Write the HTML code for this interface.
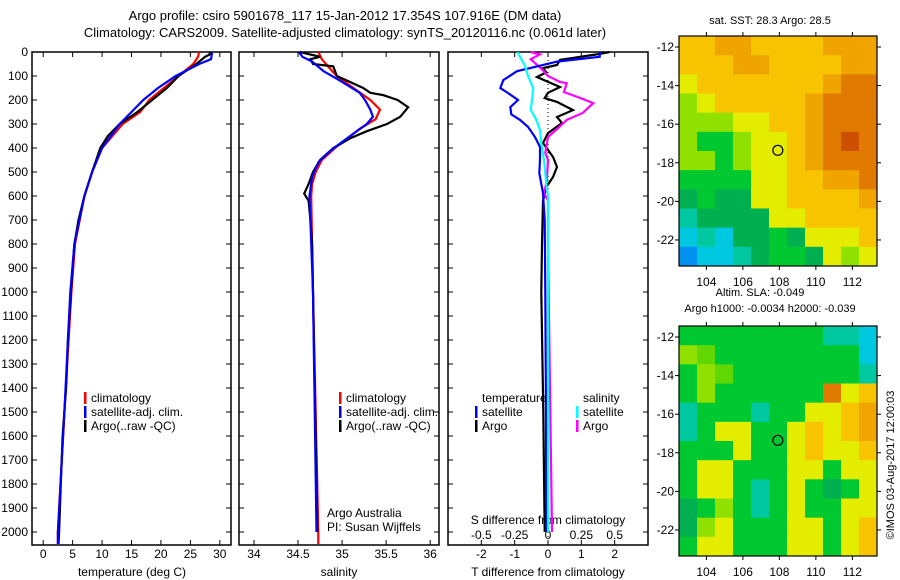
<!DOCTYPE html>
<html><head><meta charset="utf-8"><style>
body{margin:0;background:#fff;}
svg{display:block;font-family:"Liberation Sans",sans-serif;}
</style></head><body>
<svg id="c" width="900" height="580" viewBox="0 0 900 580">
<text x="345" y="20" font-size="13" text-anchor="middle">Argo profile: csiro 5901678_117 15-Jan-2012 17.354S 107.916E (DM data)</text>
<text x="345" y="37" font-size="13" text-anchor="middle">Climatology: CARS2009. Satellite-adjusted climatology: synTS_20120116.nc (0.061d later)</text>
</svg>
<script>
// depth grid
const depthTicks=[0,100,200,300,400,500,600,700,800,900,1000,1100,1200,1300,1400,1500,1600,1700,1800,1900,2000];
// temperature profiles [depth, T]
const tArgoD=[0,10,20,50,100,150,200,250,300,350,400,500,600,700,800,900,1000,1200,1400,1600,1800,2000,2050];
const tArgoV=[28.3,28.3,27.5,26,23,21,18.5,16,13,11,9.7,8.3,7,6,5.3,5,4.7,4.2,3.9,3.3,3.0,2.7,2.6];
const tClimD=[0,20,50,100,150,200,250,300,400,500,600,800,1000,1500,2000,2050];
const tClimV=[26.5,26.3,25.5,23,20.5,18,16.5,13.5,10,8.3,7,5.4,4.8,3.6,2.5,2.5];
const tSatD=[0,30,50,100,150,200,250,300,400,500,600,800,1000,1500,2000,2050];
const tSatV=[28.7,28.5,26.5,22.5,19.5,17,15,13,10,8.3,7,5.3,4.6,3.6,2.5,2.5];
// salinity profiles
const sArgoD=[0,20,30,50,60,100,120,150,170,180,200,230,270,300,330,360,400,450,500,550,590,620,700,800,1000,2000];
const sArgoV=[34.52,34.75,34.64,34.67,34.9,34.94,35.06,35.24,35.32,35.47,35.63,35.75,35.66,35.51,35.28,35.09,34.9,34.75,34.67,34.62,34.57,34.62,34.64,34.66,34.67,34.72];
const sClimD=[0,30,60,100,150,200,240,280,320,360,400,450,500,550,600,1000,2000,2050];
const sClimV=[34.73,34.77,34.84,34.94,35.13,35.32,35.43,35.38,35.2,35.06,34.92,34.77,34.7,34.66,34.65,34.67,34.73,34.73];
const sSatD=[0,20,40,80,120,170,200,240,270,300,340,380,420,460,520,600,1000,2000];
const sSatV=[34.51,34.55,34.66,34.79,34.98,35.2,35.26,35.32,35.35,35.28,35.13,34.98,34.84,34.73,34.66,34.63,34.67,34.71];
// differences from climatology
const dTSatD=[0,20,40,60,80,117,150,171,200,230,260,283,312,354,396,450,504,588,700,1000,1500,2000];
const dTSatV=[1.55,1.55,0.27,-0.33,-0.93,-1.34,-1.43,-1.2,-0.9,-1.13,-1.1,-0.84,-0.6,-0.39,-0.24,-0.24,-0.26,-0.15,-0.1,-0.08,-0.06,-0.05];
const dTArgoD=[0,10,33,54,67,85,104,146,170,192,208,242,271,296,338,379,437,479,521,563,620,800,1000,1500,2000];
const dTArgoV=[1.85,1.46,0.36,0.27,-0.15,-0.05,-0.33,0.36,0,-0.1,0.27,0.75,0.27,0.42,0,-0.15,0.15,0.27,0.15,-0.05,-0.15,-0.18,-0.2,-0.14,-0.1];
const dSArgoD=[0,10,30,75,100,125,130,167,187,213,254,283,320,354,420,450,540,588,620,800,2000];
const dSArgoV=[-0.13,-0.06,-0.13,-0.04,0,0.09,0.14,0.12,0.22,0.34,0.26,0.14,0.07,0,-0.02,0,-0.01,-0.03,0,0,0.03];
const dSSatD=[0,20,60,100,150,200,240,280,325,380,450,563,600,2000];
const dSSatV=[-0.23,-0.21,-0.17,-0.15,-0.11,-0.12,-0.13,-0.09,-0.06,-0.05,-0.03,-0.01,0,0];
// map colour grids
const sstRows=["ooOOooooOOO","oooOOooooOO","yoooooooORR","lyoooooORRR","lllyyooORRR","lgglyyoORDR","llglyyoORRR","ggggyyooOOR","dgddyyooooO","tddddyyoooo","ctcddgdyyyo","bcctdggdyly"];
const slaRows=["ggggggggttc","lGggggggggc","glGgggggggt","glggggggRyo","tgggtggyyoO","tgyyggyoyoO","gggyggyoyyo","gyygggyygyy","gyygtgygdgy","dglgtgyggyy","dlygggyygyo","gyygggyygyo"];
const lonTicks=[104,106,108,110,112];
const latTicks=[-12,-14,-16,-18,-20,-22];

const NS="http://www.w3.org/2000/svg";
const svg=document.getElementById('c');
function mk(tag,attrs,parent){const e=document.createElementNS(NS,tag);for(const k in attrs)e.setAttribute(k,attrs[k]);(parent||svg).appendChild(e);return e;}
function txt(x,y,s,size,anchor,parent){const t=mk('text',{x:x,y:y,'font-size':size,'text-anchor':anchor||'middle'},parent);t.textContent=s;return t;}

const PY0=52, PY1=545, yD=d=>52+d*0.24;
function panel(name,x0,x1,xmin,xmax){
  const g=mk('g',{});
  
  
  mk('rect',{x:x0,y:PY0,width:x1-x0,height:PY1-PY0,fill:'none',stroke:'#000','stroke-width':1.5},g);
  for(const d of depthTicks){const y=yD(d);mk('line',{x1:x0,x2:x0+5,y1:y,y2:y,stroke:'#000'},g);mk('line',{x1:x1-5,x2:x1,y1:y,y2:y,stroke:'#000'},g);}
  return {g:g,sx:v=>x0+(v-xmin)/(xmax-xmin)*(x1-x0)};
}
function line(p,D,V,color,name,w){
  const pts=D.map((d,i)=>p.sx(V[i]).toFixed(1)+','+yD(d).toFixed(1)).join(' ');
  const l=mk('polyline',{points:pts,fill:'none',stroke:color,'stroke-width':w||2.2},p.g);
  
  
}
function xticks(p,vals,labels,yLab){
  vals.forEach((v,i)=>{const x=p.sx(v);mk('line',{x1:x,x2:x,y1:PY1-5,y2:PY1,stroke:'#000'},p.g);mk('line',{x1:x,x2:x,y1:PY0,y2:PY0+5,stroke:'#000'},p.g);txt(x,yLab,labels[i],12,'middle',p.g);});
}
function legend(g,x,y,color,label){mk('rect',{x:x,y:y-10,width:2.5,height:12,fill:color},g);txt(x+7,y,label,12,'start',g);}

// panel 1 temperature
const p1=panel('temperature-panel',32,231,-1.9,31.9);
xticks(p1,[0,5,10,15,20,25,30],['0','5','10','15','20','25','30'],558);
for(const d of depthTicks){txt(28,yD(d)+4,String(d),12,'end',p1.g);}
txt(132,576,'temperature (deg C)',12,'middle',p1.g);
line(p1,tClimD,tClimV,'#f00','temp-climatology-line');
line(p1,tArgoD,tArgoV,'#000','temp-argo-line');
line(p1,tSatD,tSatV,'#00f','temp-satellite-line');
legend(p1.g,84,402,'#f00','climatology');legend(p1.g,84,416,'#00f','satellite-adj. clim.');legend(p1.g,84,430,'#000','Argo(..raw -QC)');

// panel 2 salinity
const p2=panel('salinity-panel',239,439,33.83,36.1);
xticks(p2,[34,34.5,35,35.5,36],['34','34.5','35','35.5','36'],558);
txt(339,576,'salinity',12,'middle',p2.g);
line(p2,sClimD,sClimV,'#f00','sal-climatology-line');
line(p2,sArgoD,sArgoV,'#000','sal-argo-line');
line(p2,sSatD,sSatV,'#00f','sal-satellite-line');
legend(p2.g,339,402,'#f00','climatology');legend(p2.g,339,416,'#00f','satellite-adj. clim.');legend(p2.g,339,430,'#000','Argo(..raw -QC)');
txt(327,517,'Argo Australia',12,'start',p2.g);txt(327,531,'PI: Susan Wijffels',12,'start',p2.g);

// panel 3 differences
const p3=panel('difference-panel',448,648,-3,3);
const p3s={g:p3.g,sx:v=>p3.sx(v*4)};
xticks(p3,[-2,-1,0,1,2],['-2','-1','0','1','2'],558);
[-0.5,-0.25,0,0.25,0.5].forEach((v,i)=>txt(p3s.sx(v),539,['-0.5','-0.25','0','0.25','0.5'][i],12,'middle',p3.g));
txt(548,524,'S difference from climatology',12,'middle',p3.g);
txt(548,576,'T difference from climatology',12,'middle',p3.g);
mk('line',{x1:p3.sx(0),x2:p3.sx(0),y1:PY0,y2:PY1,stroke:'#000','stroke-dasharray':'1,3'},p3.g);
line(p3,dTArgoD,dTArgoV,'#000','tdiff-argo-line');
line(p3s,dSArgoD,dSArgoV,'#f0f','sdiff-argo-line');
line(p3,dTSatD,dTSatV,'#00f','tdiff-satellite-line');
line(p3s,dSSatD,dSSatV,'#0ff','sdiff-satellite-line');
txt(482,402,'temperature',12,'start',p3.g);txt(583,402,'salinity',12,'start',p3.g);
legend(p3.g,475,416,'#00f','satellite');legend(p3.g,475,430,'#000','Argo');
legend(p3.g,576,416,'#0ff','satellite');legend(p3.g,576,430,'#f0f','Argo');

// maps
const pal={o:'#f8c400',O:'#f0a400',R:'#e07a00',D:'#cc5000',y:'#e4ec00',l:'#90e000',g:'#00c830',G:'#60d800',d:'#00b050',t:'#00c8a0',c:'#00c8e0',b:'#0090f0'};
function map(name,y0,rows,title1,title2){
  const g=mk('g',{});
  
  
  const x0=679,x1=877,y1=y0+230;
  const lx=v=>x0+(v-102.5)/(113.35-102.5)*(x1-x0);
  const ly=v=>y0+(-11.43-v)/(23.35-11.43)*(y1-y0);
  const cw=(x1-x0)/rows[0].length,ch=(y1-y0)/rows.length;
  rows.forEach((r,i)=>{for(let j=0;j<r.length;j++)mk('rect',{x:x0+j*cw,y:y0+i*ch,width:cw+0.5,height:ch+0.5,fill:pal[r[j]]},g);});
  mk('rect',{x:x0,y:y0,width:x1-x0,height:y1-y0,fill:'none',stroke:'#000','stroke-width':1.2},g);
  lonTicks.forEach(v=>{const x=lx(v);mk('line',{x1:x,x2:x,y1:y0-4,y2:y0,stroke:'#000'},g);mk('line',{x1:x,x2:x,y1:y1,y2:y1+4,stroke:'#000'},g);txt(x,y1+20,String(v),12,'middle',g);});
  latTicks.forEach(v=>{const y=ly(v);mk('line',{x1:x0-4,x2:x0,y1:y,y2:y,stroke:'#000'},g);mk('line',{x1:x1,x2:x1+4,y1:y,y2:y,stroke:'#000'},g);txt(x0-5,y+4,String(v),12,'end',g);});
  const c=mk('circle',{cx:lx(107.916),cy:ly(-17.354),r:5,fill:'none',stroke:'#000','stroke-width':1.2},g);
  
  
  if(title2){txt(760,y0-30,title1,11,'middle',g);txt(770,y0-14,title2,11,'middle',g);}
  else txt(770,y0-12,title1,11,'middle',g);
}
map('sst-map',36,sstRows,'sat. SST: 28.3 Argo: 28.5');
map('sla-map',326,slaRows,'Altim. SLA: -0.049','Argo h1000: -0.0034 h2000: -0.039');
const cp=txt(0,0,'©IMOS 03-Aug-2017 12:00:03',11,'middle');
cp.setAttribute('transform','translate(894,465) rotate(-90)');


</script>
</body></html>
